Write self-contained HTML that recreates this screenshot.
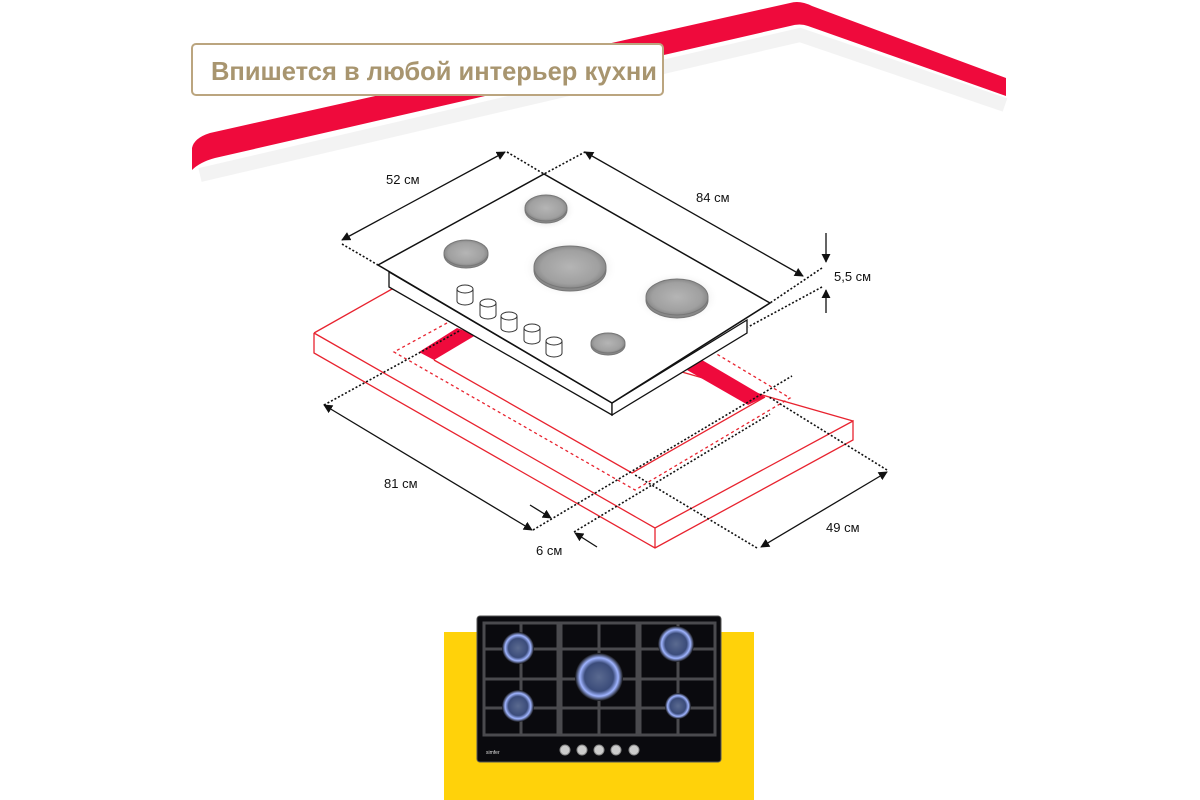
<!DOCTYPE html>
<html><head><meta charset="utf-8"><style>
html,body{margin:0;padding:0;background:#fff;}
svg{display:block;font-family:"Liberation Sans","Noto Sans CJK SC",sans-serif;}
</style></head><body>
<svg width="1200" height="800" viewBox="0 0 1200 800" xmlns="http://www.w3.org/2000/svg">
<defs>
<marker id="ar" viewBox="0 0 10 10" refX="9" refY="5" markerWidth="7" markerHeight="7" orient="auto-start-reverse"><path d="M0,0 L10,5 L0,10 z" fill="#111"/></marker>
<radialGradient id="bg" cx="0.5" cy="0.5" r="0.5"><stop offset="0" stop-color="#b5b5b5"/><stop offset="0.8" stop-color="#a0a0a0"/><stop offset="1" stop-color="#8a8a8a"/></radialGradient>
<radialGradient id="halo" cx="0.5" cy="0.5" r="0.5"><stop offset="0.6" stop-color="#e6e6e6"/><stop offset="1" stop-color="#fff" stop-opacity="0"/></radialGradient>
<radialGradient id="fl" cx="0.5" cy="0.5" r="0.5"><stop offset="0" stop-color="#5a6a90"/><stop offset="0.6" stop-color="#3b4c7a"/><stop offset="0.8" stop-color="#9fb4ff"/><stop offset="1" stop-color="#111"/></radialGradient>
</defs>
<!-- red band -->
<path d="M192,170 L192,148 Q194,138 210,133 L790,3 Q800,0 812,6 L1006,78 L1006,96 L808,26 Q800,23 790,26 L215,158 Q200,162 192,170 z" fill="#ef0a3c"/>
<path d="M200,175 L800,35 L1005,105" fill="none" stroke="#f0f0f0" stroke-width="14" opacity="0.8"/>
<!-- title -->
<rect x="192" y="44" width="471" height="51" rx="4" fill="#fff" stroke="#bba57f" stroke-width="2"/>
<text x="211" y="80" font-size="26" font-weight="bold" fill="#a8956f" textLength="446" lengthAdjust="spacingAndGlyphs">Впишется в любой интерьер кухни</text>

<!-- counter box -->
<g fill="none" stroke="#e8232f" stroke-width="1.3">
<path d="M314,333 L392,289 M314,333 L314,353 L655,548 L853,440 L853,421 L655,528 L314,333 M655,528 L655,548 M392,289 L853,421"/>
<path d="M434,360 L632,473 L765,397"/>
<path d="M447,323 L394,352 L635,490 L790,398 L715,353" stroke-dasharray="3,3"/>
</g>
<polygon points="419,352 457,328 476,335 434,360" fill="#ef0a3c"/>
<polygon points="687,370 702,360 765,397 748,405" fill="#ef0a3c"/>

<!-- hob -->
<polygon points="378,265 389,272 389,287 612,415 747,333 747,320 770,303 544,174" fill="#fff"/>
<polygon points="389,272 612,403 612,415 389,287" fill="#fff" stroke="#111" stroke-width="1.3"/>
<polygon points="612,403 747,320 747,333 612,415" fill="#fff" stroke="#111" stroke-width="1.3"/>
<polygon points="378,265 544,174 770,303 612,403" fill="#fff" stroke="#111" stroke-width="1.5"/>
<g stroke="#777" stroke-width="1">
<ellipse cx="546" cy="210" rx="30" ry="20" fill="url(#halo)" stroke="none"/>
<ellipse cx="570" cy="268" rx="48" ry="30" fill="url(#halo)" stroke="none"/>
<ellipse cx="677" cy="298" rx="42" ry="26" fill="url(#halo)" stroke="none"/>
<ellipse cx="546" cy="210" rx="21" ry="13" fill="#888"/><ellipse cx="546" cy="208" rx="21" ry="13" fill="url(#bg)"/>
<ellipse cx="466" cy="255" rx="22" ry="13" fill="#888"/><ellipse cx="466" cy="253" rx="22" ry="13" fill="url(#bg)"/>
<ellipse cx="570" cy="270" rx="36" ry="21" fill="#888"/><ellipse cx="570" cy="267" rx="36" ry="21" fill="url(#bg)"/>
<ellipse cx="677" cy="300" rx="31" ry="18" fill="#888"/><ellipse cx="677" cy="297" rx="31" ry="18" fill="url(#bg)"/>
<ellipse cx="608" cy="345" rx="17" ry="10" fill="#888"/><ellipse cx="608" cy="343" rx="17" ry="10" fill="url(#bg)"/>
</g>
<g fill="#fff" stroke="#333" stroke-width="1">
<path d="M457,289 L457,301 A8,4 0 0 0 473,301 L473,289"/><ellipse cx="465" cy="289" rx="8" ry="4"/>
<path d="M480,303 L480,315 A8,4 0 0 0 496,315 L496,303"/><ellipse cx="488" cy="303" rx="8" ry="4"/>
<path d="M501,316 L501,328 A8,4 0 0 0 517,328 L517,316"/><ellipse cx="509" cy="316" rx="8" ry="4"/>
<path d="M524,328 L524,340 A8,4 0 0 0 540,340 L540,328"/><ellipse cx="532" cy="328" rx="8" ry="4"/>
<path d="M546,341 L546,353 A8,4 0 0 0 562,353 L562,341"/><ellipse cx="554" cy="341" rx="8" ry="4"/>
</g>

<!-- dimensions -->
<g stroke="#111" stroke-width="1.3" fill="none">
<line x1="342" y1="240" x2="505" y2="152" marker-start="url(#ar)" marker-end="url(#ar)"/>
<line x1="585" y1="152" x2="803" y2="276" marker-start="url(#ar)" marker-end="url(#ar)"/>
<line x1="826" y1="233" x2="826" y2="262" marker-end="url(#ar)"/>
<line x1="826" y1="313" x2="826" y2="290" marker-end="url(#ar)"/>
<line x1="324" y1="405" x2="532" y2="530" marker-start="url(#ar)" marker-end="url(#ar)"/>
<line x1="761" y1="547" x2="887" y2="472" marker-start="url(#ar)" marker-end="url(#ar)"/>
<line x1="530" y1="505" x2="551" y2="518" marker-end="url(#ar)"/>
<line x1="597" y1="547" x2="575" y2="533" marker-end="url(#ar)"/>
</g>
<g stroke="#111" stroke-width="1.6" fill="none" stroke-dasharray="2,2">
<path d="M507,152 L544,174 L585,152"/>
<path d="M342,244 L378,265"/>
<path d="M822,268 L770,303"/>
<path d="M822,287 L748,327"/>
<path d="M324,405 L461,330"/>
<path d="M533,530 L792,376"/>
<path d="M574,532 L770,414"/>
<path d="M887,470 L769,397"/>
<path d="M757,548 L635,475"/>
</g>
<g font-size="13" fill="#111">
<text x="386" y="184">52 см</text>
<text x="696" y="202">84 см</text>
<text x="834" y="281">5,5 см</text>
<text x="384" y="488">81 см</text>
<text x="826" y="532">49 см</text>
<text x="536" y="555">6 см</text>
</g>

<!-- bottom product -->
<rect x="444" y="632" width="310" height="168" fill="#ffd20a"/>
<rect x="477" y="616" width="244" height="146" rx="3" fill="#0a0a0e" stroke="#555" stroke-width="1"/>
<g fill="none" stroke="#4a4a4e" stroke-width="3">
<rect x="484" y="623" width="74" height="112"/><rect x="561" y="623" width="76" height="112"/><rect x="640" y="623" width="75" height="112"/>
<line x1="521" y1="623" x2="521" y2="735"/><line x1="484" y1="649" x2="558" y2="649"/><line x1="484" y1="679" x2="558" y2="679"/><line x1="484" y1="708" x2="558" y2="708"/>
<line x1="599" y1="623" x2="599" y2="735"/><line x1="561" y1="649" x2="637" y2="649"/><line x1="561" y1="679" x2="637" y2="679"/><line x1="561" y1="708" x2="637" y2="708"/>
<line x1="678" y1="623" x2="678" y2="735"/><line x1="640" y1="649" x2="715" y2="649"/><line x1="640" y1="679" x2="715" y2="679"/><line x1="640" y1="708" x2="715" y2="708"/>
</g>
<circle cx="518" cy="648" r="16" fill="url(#fl)"/>
<circle cx="518" cy="706" r="16" fill="url(#fl)"/>
<circle cx="599" cy="677" r="24" fill="url(#fl)"/>
<circle cx="676" cy="644" r="18" fill="url(#fl)"/>
<circle cx="678" cy="706" r="13" fill="url(#fl)"/>
<text x="486" y="754" font-size="5" fill="#ddd">simfer</text>
<g fill="#ccc" stroke="#888"><circle cx="565" cy="750" r="5"/><circle cx="582" cy="750" r="5"/><circle cx="599" cy="750" r="5"/><circle cx="616" cy="750" r="5"/><circle cx="634" cy="750" r="5"/></g>
</svg>
</body></html>
